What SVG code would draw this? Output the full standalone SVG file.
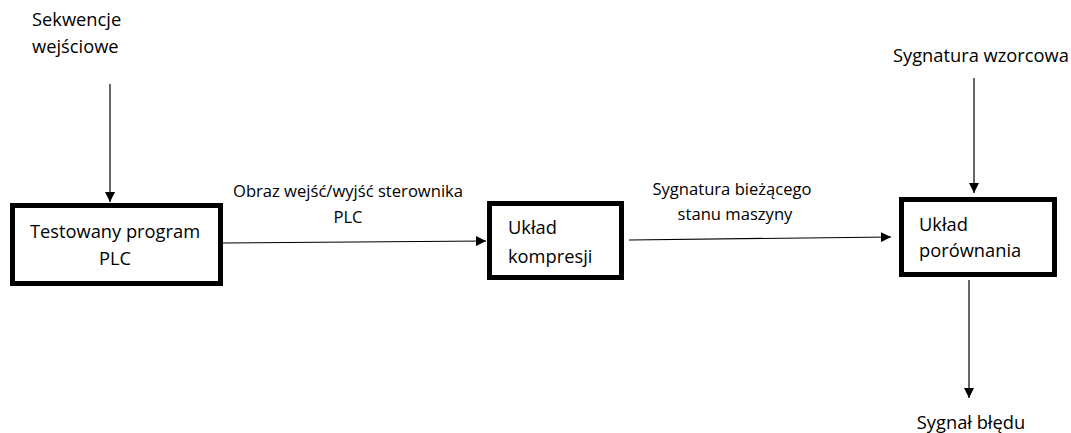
<svg xmlns="http://www.w3.org/2000/svg" width="1071" height="433" viewBox="0 0 1071 433">
<style>
text{font-family:"Open Sans","Liberation Sans",sans-serif;font-size:18.3px;fill:#000}
text.e{font-size:16.6px}
.box{fill:#fff;stroke:#000;stroke-width:5}
.c{text-anchor:middle}
.ln{stroke:#000;stroke-width:1.2;fill:none}
</style>
<defs>
<marker id="ah" viewBox="0 0 10 10" refX="10" refY="5" markerWidth="10" markerHeight="10" markerUnits="userSpaceOnUse" orient="auto">
<path d="M0,0 L10,5 L0,10 Z" fill="#000"/>
</marker>
</defs>
<rect width="1071" height="433" fill="#fff"/>
<g id="connectors">
<line class="ln" x1="110" y1="84" x2="110" y2="202" marker-end="url(#ah)"/>
<line class="ln" x1="223" y1="243" x2="486" y2="241" marker-end="url(#ah)"/>
<line class="ln" x1="629" y1="240" x2="891" y2="237" marker-end="url(#ah)"/>
<line class="ln" x1="974" y1="78" x2="974" y2="193" marker-end="url(#ah)"/>
<line class="ln" x1="969" y1="280" x2="969" y2="398" marker-end="url(#ah)"/>
</g>
<g id="label-input">
<text x="32" y="26">Sekwencje</text>
<text x="32" y="53">wejściowe</text>
</g>
<g id="node-program">
<rect class="box" x="12.5" y="205.5" width="208" height="78"/>
<text class="c" x="115" y="238">Testowany program</text>
<text class="c" x="115" y="265">PLC</text>
</g>
<g id="label-io">
<text class="c e" x="348" y="197">Obraz wejść/wyjść sterownika</text>
<text class="c e" x="348" y="223">PLC</text>
</g>
<g id="node-compression">
<rect class="box" x="489.5" y="203.5" width="132" height="74"/>
<text x="508" y="234">Układ</text>
<text x="508" y="263">kompresji</text>
</g>
<g id="label-signature">
<text class="c e" x="732" y="195">Sygnatura bieżącego</text>
<text class="c e" x="735" y="220">stanu maszyny</text>
</g>
<g id="node-comparison">
<rect class="box" x="901.5" y="199.5" width="153" height="75"/>
<text x="919" y="231">Układ</text>
<text x="919" y="257">porównania</text>
</g>
<g id="label-reference">
<text x="893" y="62">Sygnatura wzorcowa</text>
</g>
<g id="label-error">
<text class="c" x="971" y="429">Sygnał błędu</text>
</g>
</svg>
